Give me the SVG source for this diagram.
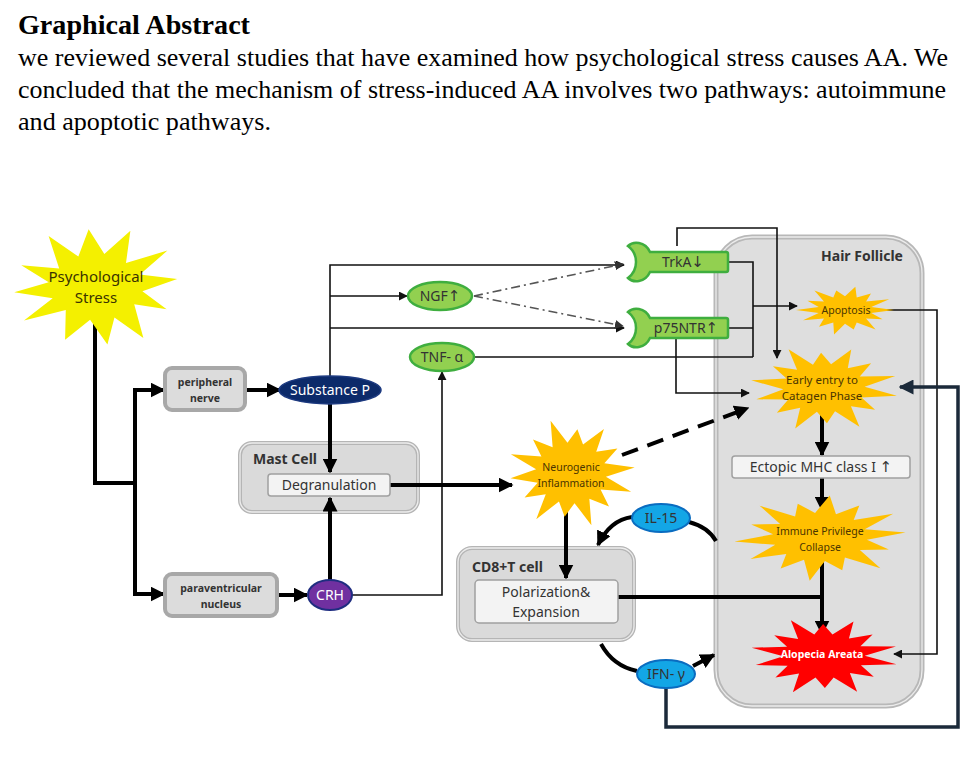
<svg xmlns="http://www.w3.org/2000/svg" xmlns:xlink="http://www.w3.org/1999/xlink" width="980" height="758" viewBox="0 0 980 758">
<style>
.ttl{font-family:"Liberation Serif","Times New Roman",serif;font-weight:bold;font-size:27px;fill:#000}
.body{font-family:"Liberation Serif","Times New Roman",serif;font-size:25px;fill:#000}
.lbl{font-family:"Noto Sans","Open Sans",sans-serif;fill:#333;text-anchor:middle}
.arr{font-family:"DejaVu Sans",sans-serif;font-size:15px}
.sm{font-size:10.5px;font-weight:bold}
.st{font-size:10.5px;fill:#4a3500}
.md{font-size:14px}
.bold{font-weight:bold}
.thick{fill:none;stroke:#000;stroke-width:4}
.thin{fill:none;stroke:#111;stroke-width:1.6}
.box{fill:#dcdcdc;stroke:#a8a8a8;stroke-width:4}
.cell{fill:#dadada;stroke:#b5b5b5;stroke-width:4}
.cellin{fill:none;stroke:#ededed;stroke-width:1.3}
.inner{fill:#f3f3f3;stroke:#a0a0a0;stroke-width:1.5}
.green{fill:#92d050;stroke:#3fae3f;stroke-width:2.5}
.blue{fill:#13a6e6;stroke:#0a6cc0;stroke-width:2}
</style>
<defs>
<polygon id="star" points="1,0 .536,.122 .766,.369 .43,.343 .624,.782 .239,.496 .178,.78 0,.55 -.223,.975 -.239,.496 -.53,.665 -.43,.343 -.856,.412 -.536,.122 -1,0 -.536,-.122 -.766,-.369 -.43,-.343 -.624,-.782 -.239,-.496 -.178,-.78 0,-.55 .211,-.926 .239,-.496 .53,-.665 .43,-.343 .901,-.434 .536,-.122"/>
<polygon id="star12" points="1,0 .55,.15 .8,.5 .42,.36 .45,.95 .15,.55 0,1 -.15,.55 -.5,.85 -.42,.34 -.95,.45 -.55,.12 -1,-.05 -.56,-.16 -.85,-.5 -.4,-.38 -.45,-.95 -.14,-.55 .05,-1 .18,-.55 .55,-.9 .42,-.36 .95,-.5 .56,-.14"/>
<path id="rec" d="M628,246 C633,241 645,241 650,252 L726,252 Q728,252 728,254 L728,270 Q728,272 726,272 L650,272 C645,283 633,283 628,278 A20 20 0 0 0 628 246 Z"/>
<marker id="ak" markerUnits="userSpaceOnUse" viewBox="0 0 10 10" markerWidth="15" markerHeight="15" refX="9" refY="5" orient="auto"><path d="M0,0 L10,5 L0,10 z" fill="#000"/></marker>
<marker id="an" markerUnits="userSpaceOnUse" viewBox="0 0 10 10" markerWidth="15" markerHeight="15" refX="9" refY="5" orient="auto"><path d="M0,0 L10,5 L0,10 z" fill="#1b2a3a"/></marker>
<marker id="at" markerUnits="userSpaceOnUse" viewBox="0 0 10 10" markerWidth="9" markerHeight="9" refX="9" refY="5" orient="auto"><path d="M0,0 L10,5 L0,10 z" fill="#111"/></marker>
<marker id="ag" markerUnits="userSpaceOnUse" viewBox="0 0 10 10" markerWidth="9" markerHeight="9" refX="9" refY="5" orient="auto"><path d="M0,0 L10,5 L0,10 z" fill="#333"/></marker>
</defs>
<rect width="980" height="758" fill="#fff"/>
<g id="header">
<text class="ttl" x="18" y="34" textLength="232" lengthAdjust="spacingAndGlyphs">Graphical Abstract</text>
<text class="body" x="18" y="66" textLength="930" lengthAdjust="spacingAndGlyphs">we reviewed several studies that have examined how psychological stress causes AA. We</text>
<text class="body" x="18" y="98" textLength="928" lengthAdjust="spacingAndGlyphs">concluded that the mechanism of stress-induced AA involves two pathways: autoimmune</text>
<text class="body" x="18" y="130" textLength="253" lengthAdjust="spacingAndGlyphs">and apoptotic pathways.</text>
</g>
<g id="hair-follicle">
<rect x="716" y="237" width="206" height="469" rx="36" fill="#dedede" stroke="#b8b8b8" stroke-width="5"/>
<rect x="716" y="237" width="206" height="469" rx="36" fill="none" stroke="#ececec" stroke-width="1.3"/>
<text class="lbl bold" x="862" y="261" font-size="14">Hair Follicle</text>
</g>
<g id="mast-cell">
<rect class="cell" x="240" y="443" width="178" height="69" rx="12"/>
<rect class="cellin" x="240" y="443" width="178" height="69" rx="12"/>
<text class="lbl bold" x="253" y="464" font-size="14" style="text-anchor:start">Mast Cell</text>
</g>
<g id="cd8-cell">
<rect class="cell" x="458" y="548" width="176" height="92" rx="14"/>
<rect class="cellin" x="458" y="548" width="176" height="92" rx="14"/>
<text class="lbl bold" x="472" y="572" font-size="14" style="text-anchor:start">CD8+T cell</text>
</g>
<g id="connectors">
<path class="thin" d="M330,376 V265 H624" marker-end="url(#at)"/>
<path class="thin" d="M330,296 H407" marker-end="url(#at)"/>
<path class="thin" d="M330,328 H624" marker-end="url(#at)"/>
<path class="thin" d="M352,595 H442 V372" marker-end="url(#at)"/>
<path class="thin" d="M474,357 H753"/>
<path class="thin" d="M728,262 H753 V357 M728,328 H753"/>
<path class="thin" d="M753,306 H797" marker-end="url(#at)"/>
<path class="thin" d="M677,246 V228 H777 V358" marker-end="url(#at)"/>
<path class="thin" d="M676,338 V393 H749" marker-end="url(#at)"/>
<path class="thin" d="M884,310 H937 V654 H894" marker-end="url(#at)"/>
<path d="M474,296 L623,264" fill="none" stroke="#555" stroke-width="1.6" stroke-dasharray="9 4 2 4" marker-end="url(#ag)"/>
<path d="M474,296 L623,326" fill="none" stroke="#555" stroke-width="1.6" stroke-dasharray="9 4 2 4" marker-end="url(#ag)"/>
<path class="thick" d="M95,318 V483 H135"/>
<path class="thick" d="M135,485 V390 H164" marker-end="url(#ak)"/>
<path class="thick" d="M135,481 V594 H164" marker-end="url(#ak)"/>
<path class="thick" d="M245,390 H280" marker-end="url(#ak)"/>
<path class="thick" d="M277,595 H307" marker-end="url(#ak)"/>
<path class="thick" d="M330,404 V472" marker-end="url(#ak)"/>
<path class="thick" d="M330,580 V498" marker-end="url(#ak)"/>
<path class="thick" d="M390,485 H512" marker-end="url(#ak)"/>
<path class="thick" d="M566,510 V578" marker-end="url(#ak)"/>
<path class="thick" d="M822,410 V455" marker-end="url(#ak)"/>
<path class="thick" d="M822,478 V510" marker-end="url(#ak)"/>
<path class="thick" d="M822,562 V634" marker-end="url(#ak)"/>
<path class="thick" d="M618,597 H824"/>
<path class="thick" d="M622,455 L748,408" stroke-dasharray="17 10" marker-end="url(#ak)"/>
<path class="thick" d="M632,517 Q610,520 598,545" marker-end="url(#ak)"/>
<path class="thick" d="M689,522 Q708,527 716,541"/>
<path class="thick" d="M601,644 Q613,666 637,671"/>
<path class="thick" d="M693,666 L714,655" marker-end="url(#ak)"/>
<path d="M666,688 V727 H958 V387 H900" fill="none" stroke="#1b2a3a" stroke-width="3.5" marker-end="url(#an)"/>
</g>
<g id="psychological-stress">
<use href="#star12" transform="translate(96,287) scale(82,58) rotate(-8)" fill="#f4f000"/>
<text class="lbl" x="96" y="282" font-size="15" style="fill:#3a3300">Psychological</text>
<text class="lbl" x="96" y="303" font-size="15" style="fill:#3a3300">Stress</text>
</g>
<g id="peripheral-nerve">
<rect class="box" x="165" y="368" width="80" height="42" rx="7"/>
<text class="lbl sm" x="205" y="386">peripheral</text>
<text class="lbl sm" x="205" y="402">nerve</text>
</g>
<g id="paraventricular-nucleus">
<rect class="box" x="165" y="574" width="112" height="42" rx="7"/>
<text class="lbl sm" x="221" y="592">paraventricular</text>
<text class="lbl sm" x="221" y="608">nucleus</text>
</g>
<g id="substance-p">
<ellipse cx="330" cy="390" rx="51" ry="14" fill="#0c2a6a" stroke="#1d3a80" stroke-width="1.5"/>
<text class="lbl md" x="330" y="395" style="fill:#fff">Substance P</text>
</g>
<g id="crh">
<ellipse cx="330" cy="595" rx="22" ry="15" fill="#7030a0" stroke="#1f2d80" stroke-width="2"/>
<text class="lbl md" x="330" y="600" style="fill:#fff">CRH</text>
</g>
<g id="degranulation">
<rect class="inner" x="268" y="474" width="122" height="22" rx="3"/>
<text class="lbl md" x="329" y="490">Degranulation</text>
</g>
<g id="ngf">
<ellipse class="green" cx="440" cy="296" rx="32" ry="14"/>
<text class="lbl md" x="440" y="301">NGF<tspan class="arr">↑</tspan></text>
</g>
<g id="tnf-alpha">
<ellipse class="green" cx="442" cy="357" rx="32" ry="14"/>
<text class="lbl md" x="442" y="362">TNF- α</text>
</g>
<g id="trka">
<use href="#rec" class="green"/>
<text class="lbl md" x="683" y="267">TrkA<tspan class="arr">↓</tspan></text>
</g>
<g id="p75ntr">
<use href="#rec" class="green" transform="translate(0,66)"/>
<text class="lbl md" x="686" y="333">p75NTR<tspan class="arr">↑</tspan></text>
</g>
<g id="neurogenic-inflammation">
<use href="#star" transform="translate(571,473) scale(64,55) rotate(20)" fill="#ffc000"/>
<text class="lbl st" x="571" y="471">Neurogenic</text>
<text class="lbl st" x="571" y="487">Inflammation</text>
</g>
<g id="polarization-expansion">
<rect class="inner" x="475" y="580" width="143" height="43" rx="4"/>
<text class="lbl md" x="546" y="597">Polarization&amp;</text>
<text class="lbl md" x="546" y="617">Expansion</text>
</g>
<g id="il-15">
<ellipse class="blue" cx="661" cy="518" rx="29" ry="14"/>
<text class="lbl md" x="661" y="523">IL-15</text>
</g>
<g id="ifn-gamma">
<ellipse class="blue" cx="666" cy="674" rx="29" ry="14"/>
<text class="lbl md" x="666" y="679">IFN- γ</text>
</g>
<g id="apoptosis">
<use href="#star" transform="translate(845,310) scale(49,25)" fill="#ffc000"/>
<text class="lbl st" x="846" y="314">Apoptosis</text>
</g>
<g id="early-catagen">
<use href="#star" transform="translate(824,388) scale(74,44) rotate(10)" fill="#ffc000"/>
<text class="lbl st" x="822" y="384" style="font-size:11.5px">Early entry to</text>
<text class="lbl st" x="822" y="400" style="font-size:11.5px">Catagen Phase</text>
</g>
<g id="ectopic-mhc">
<rect class="inner" x="732" y="456" width="178" height="22" rx="3"/>
<text class="lbl md" x="821" y="472">Ectopic MHC class I <tspan class="arr">↑</tspan></text>
</g>
<g id="immune-privilege-collapse">
<use href="#star" transform="translate(820,537) scale(86,44) rotate(-6)" fill="#ffc000"/>
<text class="lbl st" x="820" y="535">Immune Privilege</text>
<text class="lbl st" x="820" y="551">Collapse</text>
</g>
<g id="alopecia-areata">
<use href="#star" transform="translate(824,656) scale(74,40) rotate(12)" fill="#ff0000"/>
<text class="lbl sm" x="822" y="658" style="fill:#fff">Alopecia Areata</text>
</g>
</svg>
